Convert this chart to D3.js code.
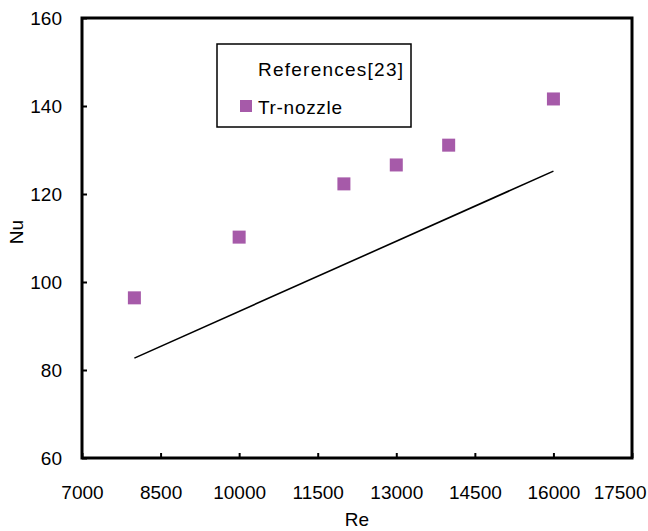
<!DOCTYPE html>
<html>
<head>
<meta charset="utf-8">
<script src="https://cdn.jsdelivr.net/npm/d3@7"></script>
<style>
    body { margin: 0; background: #ffffff; }
    text { font-family: "Liberation Sans", Arial, sans-serif; fill: #000; }
</style>
</head>
<body>
<script>

// Measured points (Tr-nozzle)
var reValues = [8000, 10000, 12000, 13000, 14000, 16000];
var nuValues = [96.4, 110.2, 122.3, 126.6, 131.1, 141.6];

// Correlation line, References[23]
var refRe = [8000, 16000];
var refNu = [82.7, 125.2];

// Axis ticks
var xTicks = [7000, 8500, 10000, 11500, 13000, 14500, 16000, 17500];
var yTicks = [60, 80, 100, 120, 140, 160];

var legendTitle = "References[23]";
var seriesName = "Tr-nozzle";

/*
 * Draws the scatter chart
 */
window.onload = function() {

    var svgWidth = 648;
    var svgHeight = 531;

    // Plot area edges
    var left = 82, right = 632, top = 18, bottom = 458;
    var fontSize = 19;
    var purple = "#a65aa9";

    const svg = d3.select("body").append("svg")
        .attr("width", svgWidth)
        .attr("height", svgHeight);

    const xScale = d3.scaleLinear()
        .domain([7000, 17500])
        .range([left, right]);

    const yScale = d3.scaleLinear()
        .domain([60, 160])
        .range([bottom, top]);

    // x-axis ticks pointing inward
    var xAxis = svg.append("g")
        .attr("transform", `translate(0, ${bottom})`)
        .call(d3.axisBottom(xScale)
            .tickValues(xTicks)
            .tickSizeInner(-5)
            .tickSizeOuter(0)
            .tickFormat(d3.format("d")));
    xAxis.select(".domain").remove();
    xAxis.selectAll("line").attr("stroke", "#000").attr("stroke-width", 2);
    xAxis.selectAll("text")
        .attr("y", 41)
        .attr("dy", null)
        .style("font-size", fontSize + "px")
        .style("font-family", "Liberation Sans, Arial, sans-serif")
        .attr("fill", "#000");

    // last label is pushed left so it stays inside the picture
    xAxis.selectAll("text")
        .filter(function(d) { return d === 17500; })
        .attr("text-anchor", "end")
        .attr("x", 646 - right);

    // y-axis ticks pointing inward
    var yAxis = svg.append("g")
        .attr("transform", `translate(${left}, 0)`)
        .call(d3.axisLeft(yScale)
            .tickValues(yTicks)
            .tickSizeInner(-5)
            .tickSizeOuter(0));
    yAxis.select(".domain").remove();
    yAxis.selectAll("line").attr("stroke", "#000").attr("stroke-width", 2);
    yAxis.selectAll("text")
        .attr("x", -20)
        .attr("dy", "0.35em")
        .style("font-size", fontSize + "px")
        .style("font-family", "Liberation Sans, Arial, sans-serif")
        .attr("fill", "#000");

    // Frame round the plot area
    svg.append("rect")
        .attr("x", left)
        .attr("y", top)
        .attr("width", right - left)
        .attr("height", bottom - top)
        .attr("fill", "none")
        .attr("stroke", "#000")
        .attr("stroke-width", 3);

    // Axis titles
    svg.append("text")
        .attr("x", (left + right) / 2)
        .attr("y", 526)
        .attr("text-anchor", "middle")
        .style("font-size", fontSize + "px")
        .text("Re");

    svg.append("text")
        .attr("transform", "translate(23, 232) rotate(-90)")
        .attr("text-anchor", "middle")
        .style("font-size", fontSize + "px")
        .text("Nu");

    // Reference correlation line
    var line = d3.line()
        .x(function(d, i) { return xScale(refRe[i]); })
        .y(function(d, i) { return yScale(refNu[i]); });

    svg.append("path")
        .attr("d", line(refRe))
        .attr("fill", "none")
        .attr("stroke", "#000")
        .attr("stroke-width", 1.6);

    // Square markers
    var size = 13;
    svg.selectAll(".point")
        .data(reValues)
        .enter()
        .append("rect")
        .attr("class", "point")
        .attr("x", function(d) { return xScale(d) - size / 2; })
        .attr("y", function(d, i) { return yScale(nuValues[i]) - size / 2; })
        .attr("width", size)
        .attr("height", size)
        .attr("fill", purple);

    // Legend
    var legend = svg.append("g");
    legend.append("rect")
        .attr("x", 217)
        .attr("y", 44)
        .attr("width", 194)
        .attr("height", 83)
        .attr("fill", "#fff")
        .attr("stroke", "#000")
        .attr("stroke-width", 1.5);

    legend.append("text")
        .attr("x", 258)
        .attr("y", 76)
        .attr("textLength", 145)
        .attr("lengthAdjust", "spacing")
        .style("font-size", fontSize + "px")
        .text(legendTitle);

    legend.append("rect")
        .attr("x", 240)
        .attr("y", 100)
        .attr("width", 12)
        .attr("height", 12)
        .attr("fill", purple);

    legend.append("text")
        .attr("x", 258)
        .attr("y", 114)
        .attr("textLength", 84)
        .attr("lengthAdjust", "spacing")
        .style("font-size", fontSize + "px")
        .text(seriesName);
};

</script>
</body>
</html>
